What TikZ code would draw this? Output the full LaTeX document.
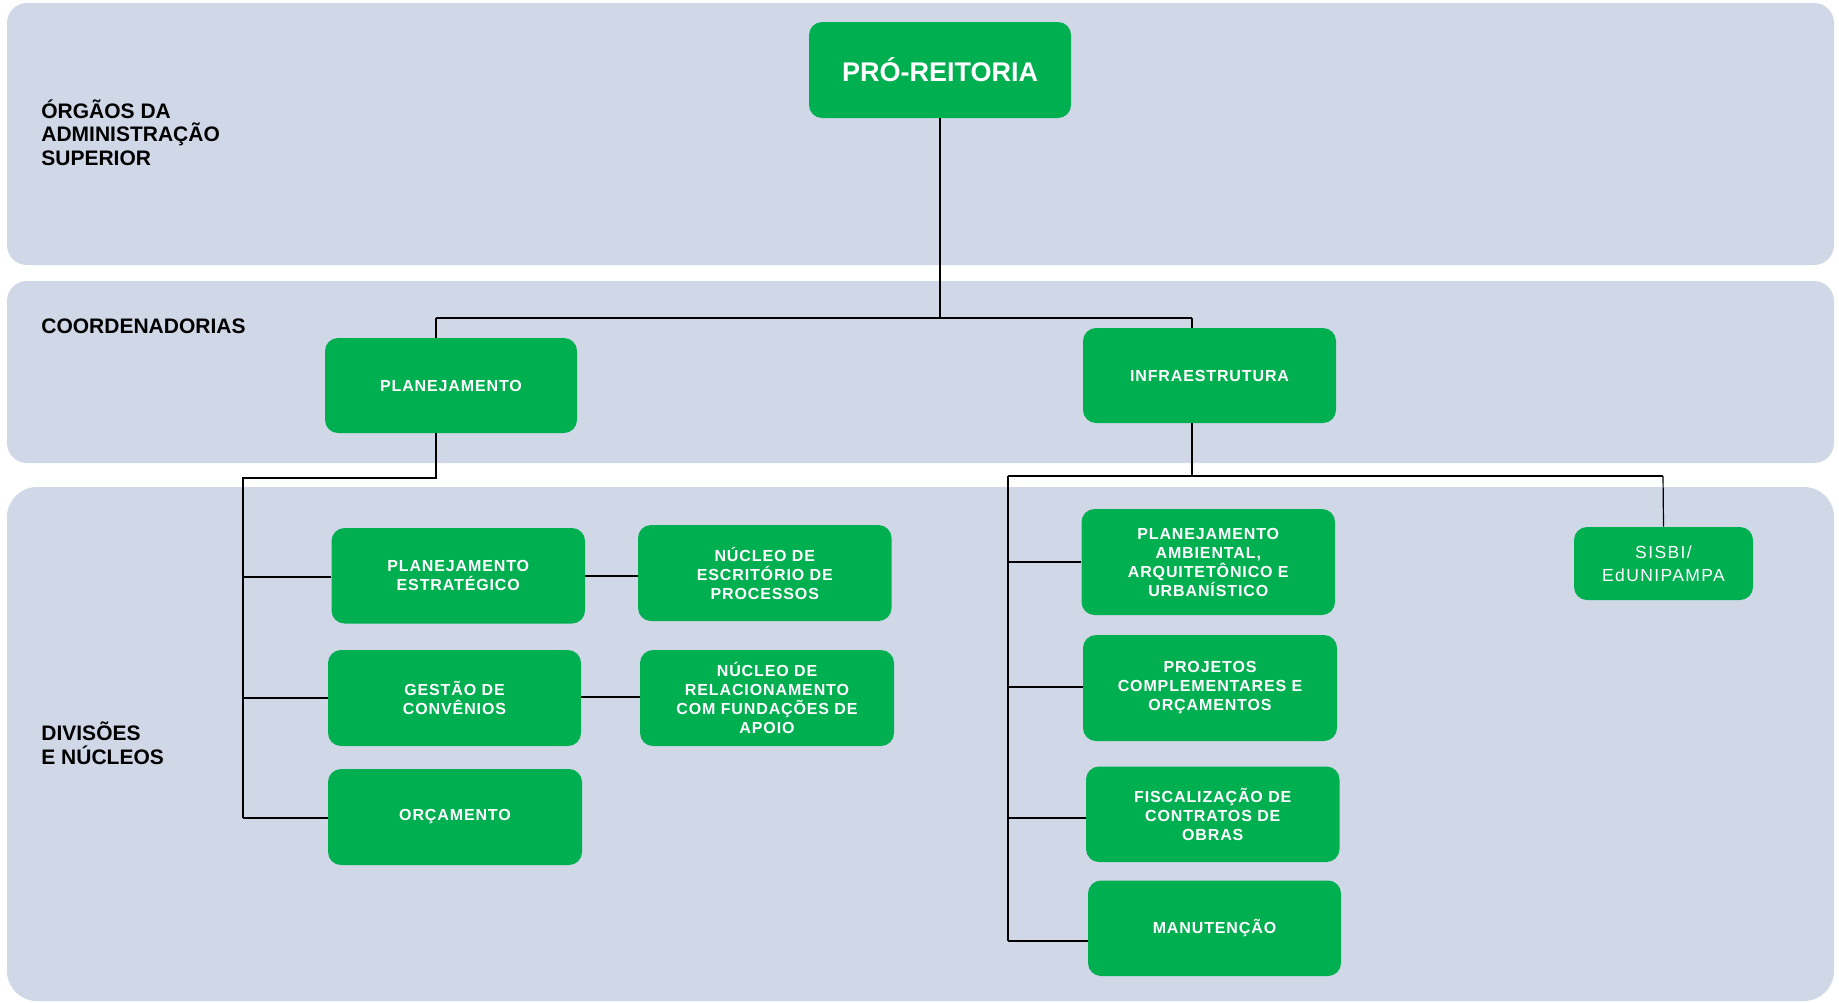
\documentclass[tikz,border=0pt]{standalone}
\usepackage{fontspec}
\setmainfont{Liberation Sans}
\newfontfamily\boxfont{Liberation Sans}[LetterSpace=5.5]
\newfontfamily\sisfont{Liberation Sans}[LetterSpace=8]
\definecolor{bandc}{RGB}{208,216,232}
\definecolor{grn}{RGB}{0,175,80}
\begin{document}
\begin{tikzpicture}[x=0.5pt,y=-0.5pt,
  bandbox/.style={fill=bandc, draw=none},
  gbox/.style={draw=none, fill=grn, rounded corners=6.5pt, text=white,
    font=\boxfont\bfseries\fontsize{8}{9.5}\selectfont, align=center, inner sep=0pt},
  conn/.style={draw=black, line width=0.6pt},
  thickconn/.style={draw=black, line width=1pt},
  lbl/.style={font=\bfseries\fontsize{10.5}{11.75}\selectfont, align=left, anchor=base west, inner sep=0pt}]
\useasboundingbox (0,0) rectangle (1839,1002);
% bands
\fill[bandbox, rounded corners=10pt] (7,3) rectangle (1834,265);
\fill[bandbox, rounded corners=10pt] (7,281) rectangle (1834,463);
\fill[bandbox, rounded corners=15pt] (7,487) rectangle (1834,1001);
% labels (base anchor = last line's baseline)
\node[lbl] (l1) at (41,165) {ÓRGÃOS DA\\ADMINISTRAÇÃO\\SUPERIOR};
\node[lbl] (l2) at (41,333) {COORDENADORIAS};
\node[lbl] (l3) at (41,764) {DIVISÕES\\E NÚCLEOS};
% boxes
\node[gbox, minimum width=131pt, minimum height=48pt,
  font=\bfseries\fontsize{13.5}{15}\selectfont] (pro) at (940,70) {PRÓ-REITORIA};
\node[gbox, minimum width=126pt, minimum height=47.5pt] (plan) at (451,385.5) {PLANEJAMENTO};
\node[gbox, minimum width=126.5pt, minimum height=47.5pt] (infra) at (1209.5,375.5) {INFRAESTRUTURA};
\node[gbox, minimum width=126.75pt, minimum height=47.75pt] (pe) at (458.25,575.75) {PLANEJAMENTO\\ESTRATÉGICO};
\node[gbox, minimum width=126.75pt, minimum height=48pt] (ne) at (764.75,573) {NÚCLEO DE\\ESCRITÓRIO DE\\PROCESSOS};
\node[gbox, minimum width=126.5pt, minimum height=48pt] (gc) at (454.5,698) {GESTÃO DE\\CONVÊNIOS};
\node[gbox, minimum width=127pt, minimum height=48pt] (nr) at (767,698) {NÚCLEO DE\\RELACIONAMENTO\\COM FUNDAÇÕES DE\\APOIO};
\node[gbox, minimum width=127pt, minimum height=48pt] (orc) at (455,817) {ORÇAMENTO};
\node[gbox, minimum width=126.75pt, minimum height=53pt] (pa) at (1208.25,562) {PLANEJAMENTO\\AMBIENTAL,\\ARQUITETÔNICO E\\URBANÍSTICO};
\node[gbox, minimum width=127pt, minimum height=53pt] (pc) at (1210,688) {PROJETOS\\COMPLEMENTARES E\\ORÇAMENTOS};
\node[gbox, minimum width=126.75pt, minimum height=47.75pt] (fc) at (1212.75,814.25) {FISCALIZAÇÃO DE\\CONTRATOS DE\\OBRAS};
\node[gbox, minimum width=126.5pt, minimum height=47.75pt] (mn) at (1214.5,928.25) {MANUTENÇÃO};
\node[gbox, minimum width=89.5pt, minimum height=36.5pt,
  font=\sisfont\fontsize{8.75}{11.5}\selectfont] (sis) at (1663.5,563.5) {SISBI/\\EdUNIPAMPA};
% connectors: top level
\coordinate (pL) at (436,318);
\coordinate (pM) at (940,318);
\coordinate (pR) at (1192,318);
\draw[conn] (pro.south) -- (pM);
\draw[conn] (pL) -- (pR);
\draw[conn] (pL) -- (pL |- plan.north);
\draw[conn] (pR) -- (pR |- infra.north);
% planejamento subtree
\coordinate (a1) at (436,478);
\coordinate (a2) at (243,478);
\coordinate (a3) at (243,818);
\coordinate (b1) at (243,577);
\coordinate (b2) at (243,698);
\draw[thickconn] (a1 |- plan.south) -- (a1) -- (a2) -- (a3);
\draw[conn] (b1) -- (b1 -| pe.west);
\draw[conn] (b2) -- (b2 -| gc.west);
\draw[conn] (a3) -- (a3 -| orc.west);
\coordinate (c1) at (585,576);
\coordinate (c2) at (581,697);
\draw[conn] (c1) -- (c1 -| ne.west);
\draw[conn] (c2) -- (c2 -| nr.west);
% infraestrutura subtree
\coordinate (d1) at (1192,476);
\coordinate (d2) at (1008,476);
\coordinate (d3) at (1663,476);
\coordinate (d4) at (1008,941);
\coordinate (e1) at (1008,562);
\coordinate (e2) at (1008,687);
\coordinate (e3) at (1008,818);
\draw[conn] (d1 |- infra.south) -- (d1);
\draw[conn] (d2) -- (d3);
\draw[conn] (d3) -- (sis.north);
\draw[conn] (d2) -- (d4);
\draw[conn] (e1) -- (e1 -| pa.west);
\draw[conn] (e2) -- (e2 -| pc.west);
\draw[conn] (e3) -- (e3 -| fc.west);
\draw[conn] (d4) -- (d4 -| mn.west);
\end{tikzpicture}
\end{document}
